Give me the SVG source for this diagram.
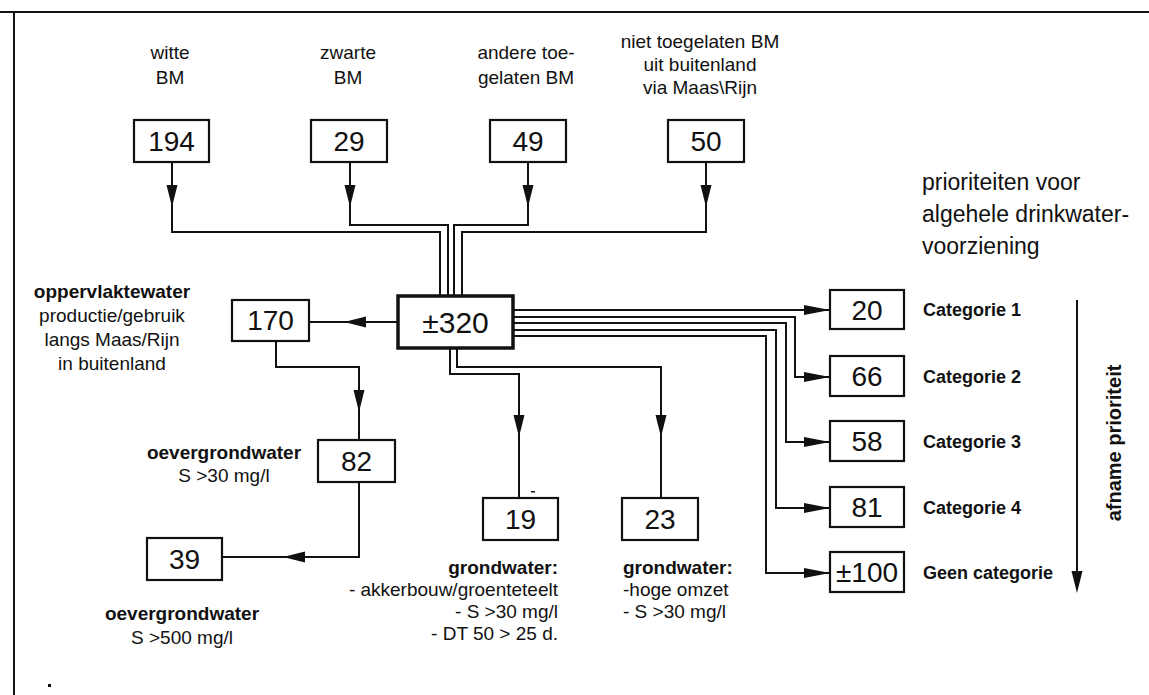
<svg xmlns="http://www.w3.org/2000/svg" xmlns:xlink="http://www.w3.org/1999/xlink" width="1149" height="695" viewBox="0 0 1149 695">
<style>
text{font-family:"Liberation Sans",Arial,Helvetica,sans-serif;fill:#111}
.box{fill:#fff;stroke:#111;stroke-width:2.2}
.main{fill:#fff;stroke:#111;stroke-width:3.5}
.num{font-size:28px;text-anchor:middle}
.t{font-size:19px}
.c{text-anchor:middle}
.r{text-anchor:end}
.b{font-weight:bold}
.cat{font-size:18px;font-weight:bold}
.big{font-size:23px}
.ln{fill:none;stroke:#111;stroke-width:2}
.frame{fill:none;stroke:#111;stroke-width:2}
</style>
<defs>
<path id="ah" d="M0,0 L-5.5,-22 L5.5,-22 Z" fill="#111"/>
<path id="ahr" d="M0,0 L-5,-26 L5,-26 Z" fill="#111"/>
</defs>
<rect width="1149" height="695" fill="#fff"/>
<path class="frame" d="M0,12 H1149 M14,12 V695"/>

<g id="connectors">
<path class="ln" d="M172,162 V232 H440 V296"/>
<path class="ln" d="M350,162 V225 H448 V296"/>
<path class="ln" d="M528,162 V225 H454 V296"/>
<path class="ln" d="M706,162 V232 H462 V296"/>
<use xlink:href="#ah" transform="translate(172,207)"/>
<use xlink:href="#ah" transform="translate(350,207)"/>
<use xlink:href="#ah" transform="translate(528,207)"/>
<use xlink:href="#ah" transform="translate(706,207)"/>
<path class="ln" d="M398,322 H309"/>
<use xlink:href="#ah" transform="translate(344,322) rotate(90)"/>
<path class="ln" d="M276,341 V367 H359 V440"/>
<use xlink:href="#ah" transform="translate(359,412)"/>
<path class="ln" d="M359,482 V557 H222"/>
<use xlink:href="#ah" transform="translate(283,557) rotate(90)"/>
<path class="ln" d="M450,348 V374 H519 V498"/>
<use xlink:href="#ah" transform="translate(519,437)"/>
<path class="ln" d="M457,348 V367 H661 V498"/>
<use xlink:href="#ah" transform="translate(661,437)"/>
<path class="ln" d="M513,310 H830"/>
<path class="ln" d="M513,317 H795 V377 H830"/>
<path class="ln" d="M513,323 H786 V442 H830"/>
<path class="ln" d="M513,330 H776 V508 H830"/>
<path class="ln" d="M513,336 H766 V573 H830"/>
<use xlink:href="#ahr" transform="translate(830,310) rotate(-90)"/>
<use xlink:href="#ahr" transform="translate(830,377) rotate(-90)"/>
<use xlink:href="#ahr" transform="translate(830,442) rotate(-90)"/>
<use xlink:href="#ahr" transform="translate(830,508) rotate(-90)"/>
<use xlink:href="#ahr" transform="translate(830,573) rotate(-90)"/>
<path class="ln" d="M1077,300 V575"/>
<use xlink:href="#ah" transform="translate(1077,593)"/>
</g>

<g id="n194">
<text class="t c" x="170" y="59">witte</text>
<text class="t c" x="170" y="84">BM</text>
<rect class="box" x="134" y="120" width="75" height="42"/>
<text class="num" x="171.5" y="151">194</text>
</g>
<g id="n29">
<text class="t c" x="348" y="59">zwarte</text>
<text class="t c" x="348" y="84">BM</text>
<rect class="box" x="311" y="120" width="76" height="42"/>
<text class="num" x="349" y="151">29</text>
</g>
<g id="n49">
<text class="t c" x="526" y="59">andere toe-</text>
<text class="t c" x="526" y="84">gelaten BM</text>
<rect class="box" x="490" y="120" width="76" height="42"/>
<text class="num" x="528" y="151">49</text>
</g>
<g id="n50">
<text class="t c" x="700" y="48">niet toegelaten BM</text>
<text class="t c" x="700" y="71">uit buitenland</text>
<text class="t c" x="700" y="94">via Maas\Rijn</text>
<rect class="box" x="668" y="120" width="76" height="42"/>
<text class="num" x="706" y="151">50</text>
</g>
<g id="n320">
<rect class="main" x="398" y="296" width="115" height="52"/>
<text class="num" x="455.5" y="333" style="font-size:30px">±320</text>
</g>
<g id="n170">
<text class="t c b" x="112" y="298">oppervlaktewater</text>
<text class="t c" x="112" y="322">productie/gebruik</text>
<text class="t c" x="112" y="346">langs Maas/Rijn</text>
<text class="t c" x="112" y="370">in buitenland</text>
<rect class="box" x="232" y="300" width="77" height="41"/>
<text class="num" x="270.5" y="330">170</text>
</g>
<g id="n82">
<text class="t c b" x="224" y="459">oevergrondwater</text>
<text class="t c" x="224" y="482">S &gt;30 mg/l</text>
<rect class="box" x="318" y="440" width="77" height="42"/>
<text class="num" x="356.5" y="471">82</text>
</g>
<g id="n39">
<rect class="box" x="147" y="538" width="75" height="42"/>
<text class="num" x="184.5" y="569">39</text>
<text class="t c b" x="182" y="620">oevergrondwater</text>
<text class="t c" x="182" y="644">S &gt;500 mg/l</text>
</g>
<g id="n19">
<rect class="box" x="483" y="498" width="75" height="42"/>
<text class="num" x="520.5" y="529">19</text>
<text class="t r b" x="558" y="574">grondwater:</text>
<text class="t r" x="558" y="596">- akkerbouw/groenteteelt</text>
<text class="t r" x="558" y="618">- S &gt;30 mg/l</text>
<text class="t r" x="558" y="640">- DT 50 &gt; 25 d.</text>
</g>
<g id="n23">
<rect class="box" x="622" y="498" width="76" height="42"/>
<text class="num" x="660" y="529">23</text>
<text class="t b" x="623" y="574">grondwater:</text>
<text class="t" x="623" y="596">-hoge omzet</text>
<text class="t" x="623" y="618">- S &gt;30 mg/l</text>
</g>
<g id="n20">
<rect class="box" x="830" y="290" width="74" height="39"/>
<text class="num" x="867" y="320">20</text>
<text class="cat" x="923" y="316">Categorie 1</text>
</g>
<g id="n66">
<rect class="box" x="830" y="356" width="74" height="40"/>
<text class="num" x="867" y="386">66</text>
<text class="cat" x="923" y="383">Categorie 2</text>
</g>
<g id="n58">
<rect class="box" x="830" y="421" width="74" height="40"/>
<text class="num" x="867" y="451">58</text>
<text class="cat" x="923" y="448">Categorie 3</text>
</g>
<g id="n81">
<rect class="box" x="830" y="487" width="74" height="40"/>
<text class="num" x="867" y="517">81</text>
<text class="cat" x="923" y="514">Categorie 4</text>
</g>
<g id="n100">
<rect class="box" x="830" y="552" width="74" height="40"/>
<text class="num" x="867" y="582">±100</text>
<text class="cat" x="923" y="579">Geen categorie</text>
</g>
<g id="legend">
<text class="big" x="922" y="190">prioriteiten voor</text>
<text class="big" x="922" y="222">algehele drinkwater-</text>
<text class="big" x="922" y="254">voorziening</text>
<text class="b c" style="font-size:20px" transform="translate(1121,443) rotate(-90)">afname prioriteit</text>
</g>
<rect x="48" y="684" width="3" height="3" fill="#111"/>
<rect x="531" y="491" width="4" height="1.5" fill="#111"/>
</svg>
